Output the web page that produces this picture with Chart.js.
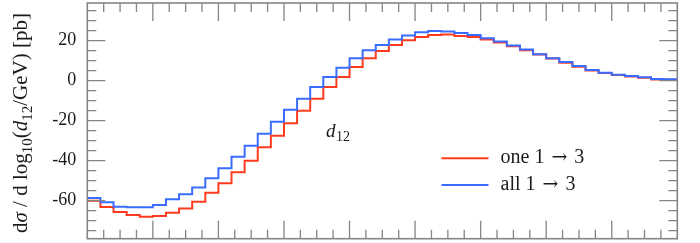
<!DOCTYPE html>
<html>
<head>
<meta charset="utf-8">
<script src="https://cdn.jsdelivr.net/npm/chart.js@4.4.1/dist/chart.umd.min.js"></script>
<style>
  html, body { margin: 0; padding: 0; background: #fff; }
  #wrap { width: 700px; height: 243px; }
</style>
</head>
<body>
<div id="wrap"><canvas id="histo" width="700" height="243"></canvas></div>
<script>
// valores por bin (45 bins, eixo x = indice do bin)
const oneValues = [
  -60.0, -63.2, -65.7, -67.1, -68.0, -67.7, -66.0, -63.9, -60.5, -56.0,
  -51.3, -45.8, -40.0, -33.3, -27.6, -21.3, -15.1, -9.0, -3.2, 1.8,
  6.8, 11.2, 14.8, 17.8, 20.2, 21.8, 22.8, 23.0, 22.3, 21.8,
  20.5, 19.0, 17.2, 15.2, 13.0, 11.0, 9.0, 7.0, 5.1, 3.8,
  2.8, 2.1, 1.5, 0.6, 0.5
];
const allValues = [
  -58.7, -60.8, -63.0, -63.3, -63.3, -62.2, -59.3, -56.8, -53.4, -48.8,
  -43.8, -38.0, -32.6, -26.6, -20.6, -14.6, -9.0, -3.2, 1.8, 6.5,
  11.2, 15.2, 17.8, 20.5, 22.5, 24.2, 24.8, 24.6, 23.8, 22.8,
  21.2, 19.5, 17.5, 15.5, 13.2, 11.2, 9.3, 7.3, 5.3, 4.0,
  3.0, 2.3, 1.7, 0.8, 0.7
];
const seriesLabels = ["one 1 \u2192 3", "all 1 \u2192 3"];
const seriesColors = ["#ff3b1f", "#3a6cff"];
const yTickValues = [-60, -40, -20, 0, 20];

const SERIF = "'Liberation Serif', 'DejaVu Serif', serif";

// pontos do histograma: cada bin vai de i a i+1
function histPoints(vals) {
  const pts = vals.map((v, i) => ({ x: i, y: v }));
  pts.push({ x: vals.length, y: vals[vals.length - 1] });
  return pts;
}

// moldura + ticks para dentro
const frameTicks = {
  id: "frameTicks",
  afterDatasetsDraw(chart) {
    const { ctx, chartArea: a, scales } = chart;
    const xs = scales.x, ys = scales.y;
    ctx.save();
    ctx.strokeStyle = "#858585";
    ctx.lineWidth = 1.3;
    // ticks y
    for (let v = -75; v <= 35; v += 5) {
      const py = ys.getPixelForValue(v);
      const len = v % 20 === 0 ? 18 : 9;
      ctx.beginPath();
      ctx.moveTo(a.left, py); ctx.lineTo(a.left + len, py);
      ctx.moveTo(a.right, py); ctx.lineTo(a.right - len, py);
      ctx.stroke();
    }
    // ticks x
    for (let k = 1; k < 36; k++) {
      const px = xs.getPixelForValue(k * 1.25);
      const len = k % 4 === 0 ? 18 : 9;
      ctx.beginPath();
      ctx.moveTo(px, a.bottom); ctx.lineTo(px, a.bottom - len);
      ctx.moveTo(px, a.top); ctx.lineTo(px, a.top + len);
      ctx.stroke();
    }
    ctx.lineWidth = 1.6;
    ctx.strokeRect(a.left, a.top, a.right - a.left, a.bottom - a.top);
    ctx.restore();
  }
};

// titulo do eixo y, legenda e rotulo d12
const textsPlugin = {
  id: "textsPlugin",
  afterDraw(chart) {
    const ctx = chart.ctx;
    ctx.save();
    ctx.fillStyle = "#1a1a1a";
    ctx.textBaseline = "alphabetic";
    ctx.textAlign = "left";

    // titulo y (rotacionado)
    const big = "21px " + SERIF, ital = "italic 21px " + SERIF, sub = "15px " + SERIF;
    const segs = [
      { t: "d", f: big, dy: 0 },
      { t: "\u03c3", f: ital, dy: 0 },
      { t: " / d log", f: big, dy: 0 },
      { t: "10", f: sub, dy: 5 },
      { t: "(", f: big, dy: 0 },
      { t: "d", f: ital, dy: 0 },
      { t: "12", f: sub, dy: 5 },
      { t: "/GeV) [pb]", f: big, dy: 0 }
    ];
    let total = 0;
    segs.forEach(s => { ctx.font = s.f; s.w = ctx.measureText(s.t).width; total += s.w; });
    ctx.translate(26.5, 123 + total / 2);
    ctx.rotate(-Math.PI / 2);
    let x = 0;
    segs.forEach(s => { ctx.font = s.f; ctx.fillText(s.t, x, s.dy); x += s.w; });
    ctx.setTransform(1, 0, 0, 1, 0, 0);

    // rotulo d12
    ctx.font = "italic 19px " + SERIF;
    ctx.fillText("d", 326, 136.5);
    ctx.font = "14px " + SERIF;
    ctx.fillText("12", 336, 141);

    // legenda (seta numa fonte mais larga, com folga dos dois lados)
    const rows = [158.3, 185];
    rows.forEach((y, i) => {
      ctx.strokeStyle = seriesColors[i];
      ctx.lineWidth = 2;
      ctx.beginPath();
      ctx.moveTo(441.5, y); ctx.lineTo(488.5, y);
      ctx.stroke();
      const parts = seriesLabels[i].split("\u2192");
      let lx = 500.5;
      ctx.font = "20px " + SERIF;
      ctx.fillText(parts[0], lx, y + 4.5);
      lx += ctx.measureText(parts[0]).width + 2;
      ctx.font = "19px 'DejaVu Serif', serif";
      ctx.fillText("\u2192", lx, y + 4.5);
      lx += ctx.measureText("\u2192").width + 2;
      ctx.font = "20px " + SERIF;
      ctx.fillText(parts[1], lx, y + 4.5);
    });
    ctx.restore();
  }
};

new Chart(document.getElementById("histo"), {
  type: "line",
  plugins: [frameTicks, textsPlugin],
  data: {
    datasets: [
      {
        label: seriesLabels[0],
        data: histPoints(oneValues),
        borderColor: seriesColors[0],
        borderWidth: 2,
        stepped: true,
        pointRadius: 0,
        fill: false,
        order: 1
      },
      {
        label: seriesLabels[1],
        data: histPoints(allValues),
        borderColor: seriesColors[1],
        borderWidth: 2,
        stepped: true,
        pointRadius: 0,
        fill: false,
        order: 0
      }
    ]
  },
  options: {
    responsive: false,
    animation: false,
    devicePixelRatio: 1,
    layout: { padding: { left: 0, right: 22.7, top: 3, bottom: 4.3 } },
    plugins: {
      legend: { display: false },
      tooltip: { enabled: false }
    },
    scales: {
      x: {
        type: "linear",
        min: 0,
        max: oneValues.length,
        display: false
      },
      y: {
        min: -79,
        max: 38.8,
        grid: { display: false, drawTicks: false },
        border: { display: false },
        afterBuildTicks: s => { s.ticks = yTickValues.map(v => ({ value: v })); },
        afterFit: s => { s.width = 87.3; s.paddingTop = 0; s.paddingBottom = 0; },
        ticks: {
          padding: 11,
          color: "#1a1a1a",
          font: { family: SERIF, size: 18 }
        }
      }
    }
  }
});
</script>
</body>
</html>
